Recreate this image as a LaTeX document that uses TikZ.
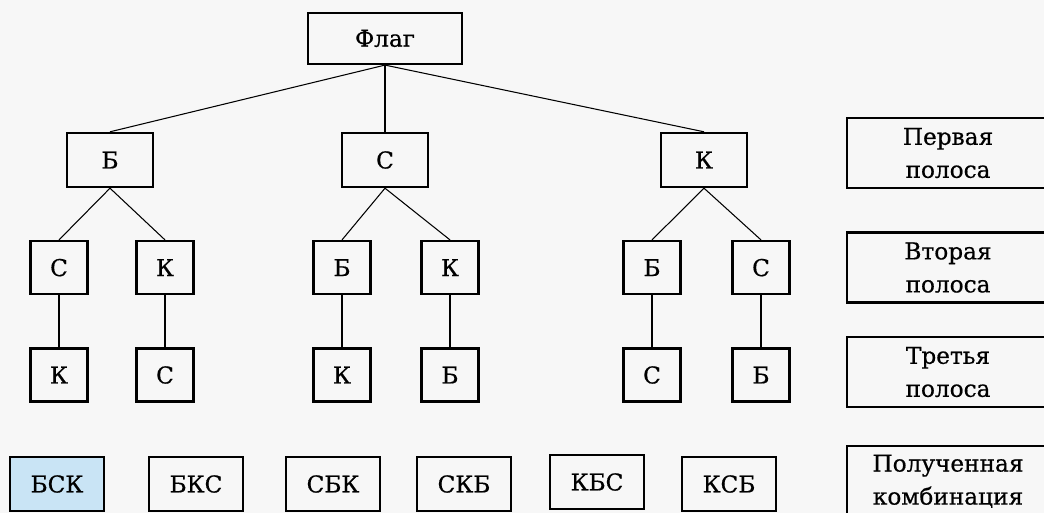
\documentclass[tikz,border=0pt]{standalone}
\usepackage{fontspec}
\setmainfont{DejaVu Serif}[FakeBold=0.6]
\usetikzlibrary{positioning}
\definecolor{pagebg}{HTML}{F7F7F7}
\definecolor{pickblue}{HTML}{C9E4F5}

\begin{document}
\begin{tikzpicture}[
  font=\fontsize{16.5}{23.5}\selectfont,
  box/.style={rectangle,draw,line width=1.7pt,inner sep=2pt,align=center},
  root/.style={box,minimum width=3.85cm,minimum height=1.275cm},
  band/.style={box,minimum width=2.15cm,minimum height=1.35cm},
  leaf/.style={box,minimum width=1.425cm,minimum height=1.325cm},
  combo/.style={box,minimum width=2.35cm,minimum height=1.35cm},
  legend/.style={box,minimum width=5.05cm,minimum height=1.75cm},
  link/.style={line width=0.75pt},
]
\useasboundingbox (0,0) rectangle (26.1,-12.825);
\fill[pagebg] (0,0) rectangle (26.1,-12.825);
\clip (0,0) rectangle (26.1,-12.825);

% Root
\node[root] (flag) at (9.625,-0.96) {Флаг};
% First band
\node[band] (b) at (2.75, -4.0) {Б};
\node[band] (s) at (9.625,-4.0) {С};
\node[band] (k) at (17.6, -4.0) {К};
% Second band
\node[leaf] (bs) at (1.475, -6.69) {С};
\node[leaf] (bk) at (4.125, -6.69) {К};
\node[leaf] (sb) at (8.55,  -6.69) {Б};
\node[leaf] (sk) at (11.25, -6.69) {К};
\node[leaf] (kb) at (16.3,  -6.69) {Б};
\node[leaf] (ks) at (19.025,-6.69) {С};
% Third band
\node[leaf] (bsk) at (1.475, -9.375) {К};
\node[leaf] (bks) at (4.125, -9.375) {С};
\node[leaf] (sbk) at (8.55,  -9.375) {К};
\node[leaf] (skb) at (11.25, -9.375) {Б};
\node[leaf] (kbs) at (16.3,  -9.375) {С};
\node[leaf] (ksb) at (19.025,-9.375) {Б};
% Resulting combinations
\node[combo,fill=pickblue] (rbsk) at (1.425, -12.1) {БСК};
\node[combo] (rbks) at (4.9,   -12.1) {БКС};
\node[combo] (rsbk) at (8.325, -12.1) {СБК};
\node[combo] (rskb) at (11.6,  -12.1) {СКБ};
\node[combo] (rkbs) at (14.925,-12.05) {КБС};
\node[combo] (rksb) at (18.225,-12.1) {КСБ};
% Legend column
\node[legend] (first)  at (23.7,-3.825) {Первая\\полоса};
\node[legend] (second) at (23.7,-6.69)  {Вторая\\полоса};
\node[legend] (third)  at (23.7,-9.3)   {Третья\\полоса};
\node[legend] (result) at (23.7,-12.03) {Полученная\\комбинация};

% Branches
\foreach \top/\low in {flag/b,flag/s,flag/k,b/bs,b/bk,s/sb,s/sk,k/kb,k/ks,bs/bsk,bk/bks,sb/sbk,sk/skb,kb/kbs,ks/ksb}
  \draw[link] (\top.south) -- (\low.north);
\end{tikzpicture}
\end{document}
